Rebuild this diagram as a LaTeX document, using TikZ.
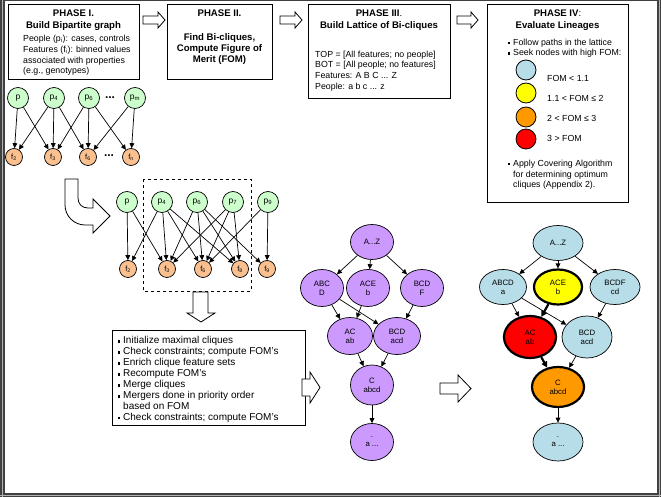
\documentclass[tikz,border=0pt]{standalone}
\usepackage{fontspec}
\setmainfont{Liberation Sans}
\usetikzlibrary{arrows.meta,shapes.geometric}
\definecolor{pgreen}{RGB}{204,255,204}
\definecolor{forange}{RGB}{250,192,144}
\definecolor{lav}{RGB}{204,153,255}
\definecolor{lblue}{RGB}{183,221,232}
\definecolor{fyel}{RGB}{255,255,0}
\definecolor{forg}{RGB}{255,153,0}
\definecolor{fred}{RGB}{255,0,0}
\definecolor{framec}{RGB}{64,64,64}
\newcommand\bul{\makebox[5.5pt][l]{\rule[0.9pt]{2.6pt}{2.6pt}}}
\begin{document}
\begin{tikzpicture}[x=1pt,y=-1pt,
  box/.style={draw, line width=1pt, anchor=north west, inner sep=0pt},
  ttl/.style={font=\fontsize{9.6}{11}\selectfont\bfseries, inner sep=0pt, text height=6.9pt, text depth=0pt},
  bl/.style={font=\fontsize{8.8}{10.8}\selectfont, inner sep=0pt, anchor=west, text height=6.3pt, text depth=0pt},
  sl/.style={font=\fontsize{10}{10.8}\selectfont, inner sep=0pt, anchor=west, text height=7.2pt, text depth=0pt},
  pn/.style={circle, draw, line width=0.7pt, fill=pgreen, minimum size=21pt, inner sep=0pt, font=\fontsize{8.5}{9}\selectfont},
  fnode/.style={circle, draw, line width=0.7pt, fill=forange, minimum size=17pt, inner sep=0pt, font=\fontsize{7.5}{9}\selectfont},
  arr/.style={-{Triangle[length=5pt,width=4.8pt]}, line width=0.7pt},
  tarr/.style={-{Triangle[length=6pt,width=6pt]}, line width=2.2pt},
  hol/.style={draw, line width=0.8pt, fill=white},
  lat/.style={ellipse, draw, line width=0.7pt, inner sep=0pt, align=center, font=\fontsize{7.8}{9.2}\selectfont},
  lg/.style={circle, draw, line width=0.8pt, minimum size=20pt, inner sep=0pt},
  dots/.style={inner sep=0pt, font=\fontsize{12}{12}\selectfont\bfseries},
  ]
\useasboundingbox (0,0) rectangle (661,497);
% outer frame
\fill[framec] (0,0) rectangle (661,1.2);
\fill[framec] (0,0) rectangle (4.5,497);
\fill[framec] (656.5,0) rectangle (661,497);
\fill[framec] (0,492.5) rectangle (661,497);
\draw[gray!60, line width=0.6pt] (1.8,0) -- (1.8,497);
\draw[gray!60, line width=0.6pt] (658.8,0) -- (658.8,497);
\draw[gray!60, line width=0.6pt] (0,494.8) -- (661,494.8);

% Phase boxes
\node[box, minimum width=131pt, minimum height=75pt] (ph1) at (8,4) {};
\node[box, minimum width=105pt, minimum height=75pt] (ph2) at (167,4) {};
\node[box, minimum width=142pt, minimum height=94pt] (ph3) at (308,4) {};
\node[box, minimum width=141pt, minimum height=198pt] (ph4) at (487,4) {};

% Phase I text
\node[ttl] (t1a) at (73.5,13) {PHASE I.};
\node[ttl] (t1b) at (73.5,25) {Build Bipartite graph};
\node[bl] (b1a) at (23,38) {People (p\textsubscript{i}): cases, controls};
\node[bl] (b1b) at (23,49) {Features (f\textsubscript{i}): binned values};
\node[bl] (b1c) at (23,60) {associated with properties};
\node[bl] (b1d) at (23,70.5) {(e.g., genotypes)};

% Phase II text
\node[ttl] (t2a) at (219.5,13) {PHASE II.};
\node[ttl] (t2b) at (219.5,37) {Find Bi-cliques,};
\node[ttl] (t2c) at (219.5,48) {Compute Figure of};
\node[ttl] (t2d) at (219.5,59) {Merit (FOM)};

% Phase III text
\node[ttl] (t3a) at (379,13) {PHASE III\textmd{.}};
\node[ttl] (t3b) at (379,25) {Build Lattice of Bi-cliques};
\node[bl] (b3a) at (315,54) {TOP = [All features; no people]};
\node[bl] (b3b) at (315,64.5) {BOT = [All people; no features]};
\node[bl] (b3c) at (315,75) {Features: A B C ... Z};
\node[bl] (b3d) at (315,86) {People: a b c ... z};

% Phase IV text
\node[ttl] (t4a) at (557.5,13) {PHASE IV\textmd{:}};
\node[ttl] (t4b) at (557.5,25) {Evaluate Lineages};
\node[bl] (b4a) at (507.5,42) {\bul Follow paths in the lattice};
\node[bl] (b4b) at (507.5,52.5) {\bul Seek nodes with high FOM:};
\node[lg, fill=lblue] (lg1) at (526,70) {};
\node[lg, fill=fyel] (lg2) at (526,93) {};
\node[lg, fill=forg] (lg3) at (526,117) {};
\node[lg, fill=fred] (lg4) at (526,139) {};
\node[bl] (lt1) at (547,78) {FOM < 1.1};
\node[bl] (lt2) at (547,98) {1.1 < FOM ≤ 2};
\node[bl] (lt3) at (547,118) {2 < FOM ≤ 3};
\node[bl] (lt4) at (547,138) {3 > FOM};
\node[bl] (b4c) at (507.5,163) {\bul Apply Covering Algorithm};
\node[bl] (b4d) at (513,174) {for determining optimum};
\node[bl] (b4e) at (513,184.5) {cliques (Appendix 2).};

% top hollow arrows
\draw[hol] (143,16) -- (158,16) -- (158,12) -- (165,20) -- (158,28) -- (158,24) -- (143,24) -- cycle;
\draw[hol] (280,16) -- (295,16) -- (295,12) -- (302,20) -- (295,28) -- (295,24) -- (280,24) -- cycle;
\draw[hol] (457,16) -- (471,16) -- (471,12) -- (478,20) -- (471,28) -- (471,24) -- (457,24) -- cycle;

% Phase I graph
\node[pn] (pa) at (18,98) {p};
\node[pn] (pb) at (54,98) {p\textsubscript{4}};
\node[pn] (pc) at (89,98) {p\textsubscript{6}};
\node[pn] (pd) at (135,98) {p\textsubscript{m}};
\node[dots] (dt1) at (110,98) {...};
\node[fnode] (fa) at (14,157) {f\textsubscript{2}};
\node[fnode] (fb) at (53,157) {f\textsubscript{3}};
\node[fnode] (fc) at (88,157) {f\textsubscript{6}};
\node[fnode] (fd) at (131,157) {f\textsubscript{n}};
\node[dots] (dt2) at (109,156) {...};
\foreach \s/\t in {pa/fa,pa/fb,pb/fa,pb/fb,pb/fc,pc/fb,pc/fc,pc/fd,pd/fc,pd/fd}
  \draw[arr] (\s) -- (\t);

% U-turn arrow
\draw[hol] (65,179) -- (65,205) .. controls (65,216) and (74,225) .. (85,225) -- (93,225) -- (93,233) -- (110,216) -- (93,199) -- (93,208) -- (88,208) .. controls (82,208) and (78,204) .. (78,198) -- (78,179) -- cycle;

% dashed box
\draw[dashed, line width=0.8pt] (143,179) rectangle (251,291);

% Phase II graph
\node[pn] (qa) at (127,202) {p};
\node[pn] (qb) at (162,202) {p\textsubscript{4}};
\node[pn] (qc) at (197,202) {p\textsubscript{6}};
\node[pn] (qd) at (233,202) {p\textsubscript{7}};
\node[pn] (qe) at (268,202) {p\textsubscript{9}};
\node[fnode] (ga) at (128,269) {f\textsubscript{2}};
\node[fnode] (gb) at (167,269) {f\textsubscript{3}};
\node[fnode] (gc) at (203,269) {f\textsubscript{6}};
\node[fnode] (gd) at (240,269) {f\textsubscript{8}};
\node[fnode] (ge) at (267,269) {f\textsubscript{9}};
\foreach \s/\t in {qa/ga,qa/gb,qb/ga,qb/gb,qb/gc,qb/gd,qc/gb,qc/gc,qc/gd,qc/ge,qd/gb,qd/gc,qd/gd,qe/gc,qe/ge}
  \draw[arr] (\s) -- (\t);

% down arrow
\draw[hol] (193,292) -- (208,292) -- (208,313) -- (215,313) -- (201,322) -- (187,313) -- (193,313) -- cycle;

% steps box
\node[box, minimum width=193pt, minimum height=95pt] (stp) at (112,330) {};
\node[sl] (s1) at (117.5,340) {\bul Initialize maximal cliques};
\node[sl] (s2) at (117.5,351) {\bul Check constraints; compute FOM’s};
\node[sl] (s3) at (117.5,362) {\bul Enrich clique feature sets};
\node[sl] (s4) at (117.5,373) {\bul Recompute FOM’s};
\node[sl] (s5) at (117.5,384) {\bul Merge cliques};
\node[sl] (s6) at (117.5,395) {\bul Mergers done in priority order};
\node[sl] (s7) at (123,405.5) {based on FOM};
\node[sl] (s8) at (117.5,416.5) {\bul Check constraints; compute FOM’s};

% right arrows
\draw[hol] (302,379) -- (310,379) -- (310,372) -- (320,387.5) -- (310,403) -- (310,396) -- (302,396) -- cycle;
\draw[hol] (440,383) -- (458,383) -- (458,375) -- (471,388.5) -- (458,402) -- (458,394) -- (440,394) -- cycle;

% Lattice 1
\begin{scope}[every node/.append style={fill=lav}]
\node[lat, minimum width=43pt, minimum height=35pt] (az1) at (372,242) {A...Z};
\node[lat, minimum width=43pt, minimum height=37pt] (abcd1) at (322,288) {ABC\\D};
\node[lat, minimum width=43pt, minimum height=37pt] (ace1) at (368,288) {ACE\\b};
\node[lat, minimum width=43pt, minimum height=37pt] (bcdf1) at (422,288) {BCD\\F};
\node[lat, minimum width=45pt, minimum height=37pt] (ac1) at (350,336) {AC\\ab};
\node[lat, minimum width=47pt, minimum height=37pt] (bcd1) at (397,336) {BCD\\acd};
\node[lat, minimum width=43pt, minimum height=40pt] (c1) at (372,385) {C\\abcd};
\node[lat, minimum width=43pt, minimum height=37pt] (bot1) at (372,442) {.\\a ...};
\end{scope}
\foreach \s/\t in {az1/abcd1,az1/ace1,az1/bcdf1,abcd1/ac1,abcd1/bcd1,ace1/ac1,bcdf1/bcd1,ac1/c1,bcd1/c1,c1/bot1}
  \draw[arr] (\s) -- (\t);

% Lattice 2
\node[lat, fill=lblue, minimum width=50pt, minimum height=35pt] (az2) at (558,243) {A...Z};
\node[lat, fill=lblue, minimum width=47pt, minimum height=35pt] (abcd2) at (503,287) {ABCD\\a};
\node[lat, fill=fyel, line width=2.2pt, minimum width=48pt, minimum height=35pt] (ace2) at (558,287) {ACE\\b};
\node[lat, fill=lblue, minimum width=50pt, minimum height=35pt] (bcdf2) at (615,287) {BCDF\\cd};
\node[lat, fill=fred, line width=2.2pt, minimum width=52pt, minimum height=42pt] (ac2) at (530,337) {AC\\ab};
\node[lat, fill=lblue, minimum width=50pt, minimum height=42pt] (bcd2) at (587,337) {BCD\\acd};
\node[lat, fill=forg, line width=2.2pt, minimum width=52pt, minimum height=40pt] (c2) at (558,387) {C\\abcd};
\node[lat, fill=lblue, minimum width=50pt, minimum height=38pt] (bot2) at (558,442) {.\\a ...};
\foreach \s/\t in {az2/abcd2,az2/ace2,az2/bcdf2,abcd2/ac2,abcd2/bcd2,bcdf2/bcd2,bcd2/c2,c2/bot2}
  \draw[arr] (\s) -- (\t);
\draw[tarr] (ace2) -- (ac2);
\draw[tarr] (ac2) -- (c2);
\end{tikzpicture}
\end{document}
